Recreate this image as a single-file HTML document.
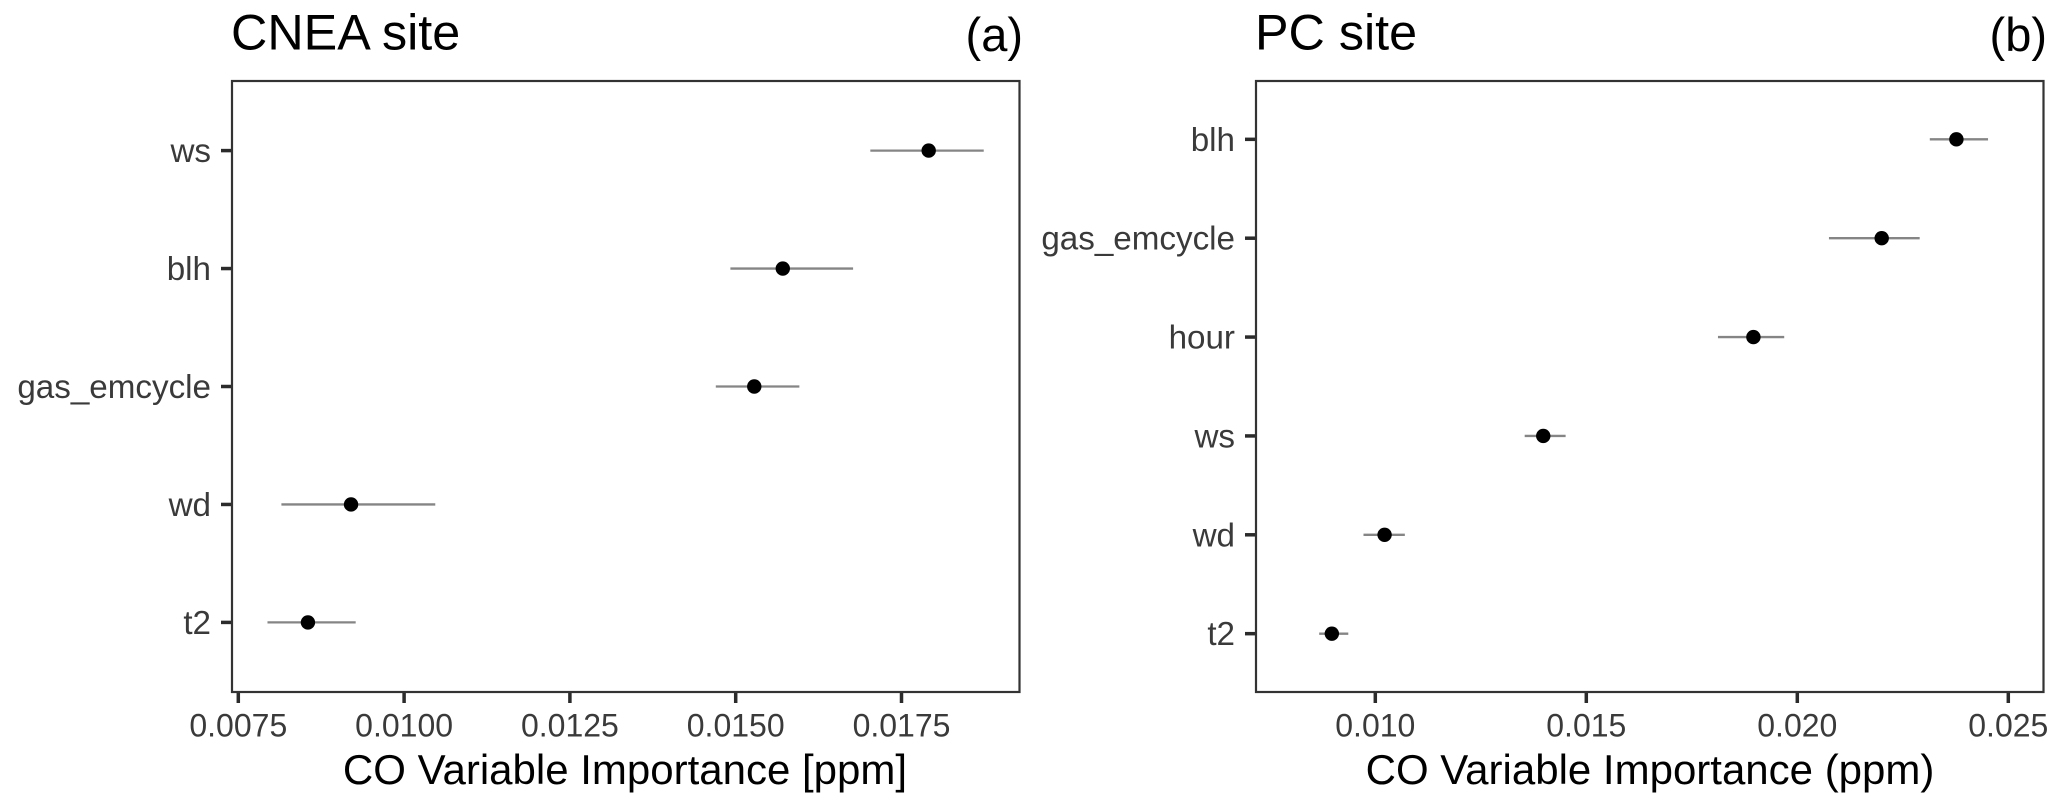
<!DOCTYPE html>
<html lang="en">
<head>
<meta charset="utf-8">
<title>CO Variable Importance</title>
<style>
html,body{margin:0;padding:0;background:#fff;}
body{width:2067px;height:805px;overflow:hidden;}
svg{display:block;font-family:"Liberation Sans",Arial,sans-serif;}
</style>
</head>
<body>
<svg id="figure" width="2067" height="805" viewBox="0 0 2067 805" xmlns="http://www.w3.org/2000/svg">
  <rect x="0" y="0" width="2067" height="805" fill="#ffffff"/>
  <text x="231" y="49.5" font-size="50.3" fill="#000">CNEA site</text>
  <text x="1023" y="51" font-size="47" text-anchor="end" fill="#000">(a)</text>
  <text x="1255" y="49.5" font-size="50.3" fill="#000">PC site</text>
  <text x="2047" y="51" font-size="47" text-anchor="end" fill="#000">(b)</text>
  <text x="625" y="784" font-size="42" text-anchor="middle" fill="#000">CO Variable Importance [ppm]</text>
  <text x="1650" y="784" font-size="42" text-anchor="middle" fill="#000">CO Variable Importance (ppm)</text>
  <g id="panel-a"></g>
  <g id="panel-b"></g>
</svg>
<script>
const categoriesA = ['ws', 'blh', 'gas_emcycle', 'wd', 't2'];
const importanceA = [0.01791, 0.01571, 0.01528, 0.0092, 0.00855];
const lowerA = [0.01703, 0.01492, 0.0147, 0.00815, 0.00794];
const upperA = [0.01874, 0.01677, 0.01596, 0.01047, 0.00927];
const tickValuesA = [0.0075, 0.01, 0.0125, 0.015, 0.0175];
const tickLabelsA = ['0.0075', '0.0100', '0.0125', '0.0150', '0.0175'];

const categoriesB = ['blh', 'gas_emcycle', 'hour', 'ws', 'wd', 't2'];
const importanceB = [0.02377, 0.022, 0.01896, 0.01398, 0.01022, 0.00897];
const lowerB = [0.02314, 0.02075, 0.01812, 0.01354, 0.00972, 0.00867];
const upperB = [0.02452, 0.0229, 0.01969, 0.01451, 0.0107, 0.00936];
const tickValuesB = [0.01, 0.015, 0.02, 0.025];
const tickLabelsB = ['0.010', '0.015', '0.020', '0.025'];

const NS = 'http://www.w3.org/2000/svg';

function mk(parent, tag, attrs) {
  const el = document.createElementNS(NS, tag);
  for (const k in attrs) el.setAttribute(k, attrs[k]);
  parent.appendChild(el);
  return el;
}

function drawPanel(cfg) {
  const g = document.getElementById(cfg.id);
  const xScale = v => cfg.x0 + (v - cfg.v0) * cfg.pxPerUnit;
  // Discrete axis: about 0.59 step expansion on both ends of the panel
  const step = (cfg.bottom - cfg.top) / (cfg.categories.length - 1 + 1.18);
  const yScale = i => cfg.top + step * (0.59 + i);

  cfg.tickValues.forEach((v, i) => {
    const tick = mk(g, 'line', {x1: xScale(v), x2: xScale(v), y1: cfg.bottom, y2: cfg.bottom + 11, stroke: '#2b2b2b', 'stroke-width': 3.5});
    
    
    const label = mk(g, 'text', {x: xScale(v), y: 736.5, 'font-size': 32, 'text-anchor': 'middle', fill: '#3a3a3a'});
    
    
    label.textContent = cfg.tickLabels[i];
  });

  cfg.categories.forEach((c, i) => {
    const y = yScale(i);
    const tick = mk(g, 'line', {x1: cfg.left - 11, x2: cfg.left, y1: y, y2: y, stroke: '#2b2b2b', 'stroke-width': 3.5});
    
    
    const label = mk(g, 'text', {x: cfg.left - 21, y: y + 11.5, 'font-size': 33.2, 'text-anchor': 'end', fill: '#3a3a3a'});
    
    
    label.textContent = c;

    const bar = mk(g, 'line', {x1: xScale(cfg.lower[i]), x2: xScale(cfg.upper[i]), y1: y, y2: y, stroke: '#858585', 'stroke-width': 2.3});
    
    
    const dot = mk(g, 'circle', {cx: xScale(cfg.values[i]), cy: y, r: 7.2, fill: '#000'});
    
    
  });

  const frame = mk(g, 'rect', {x: cfg.left, y: cfg.top, width: cfg.right - cfg.left, height: cfg.bottom - cfg.top, fill: 'none', stroke: '#333', 'stroke-width': 2.2});
  
  
}

drawPanel({
  id: 'panel-a', left: 232, right: 1019.5, top: 81, bottom: 692,
  x0: 238.3, v0: 0.0075, pxPerUnit: 66320,
  categories: categoriesA, values: importanceA, lower: lowerA, upper: upperA,
  tickValues: tickValuesA, tickLabels: tickLabelsA
});
drawPanel({
  id: 'panel-b', left: 1256, right: 2043.5, top: 81, bottom: 692,
  x0: 1375.3, v0: 0.01, pxPerUnit: 42200,
  categories: categoriesB, values: importanceB, lower: lowerB, upper: upperB,
  tickValues: tickValuesB, tickLabels: tickLabelsB
});
</script>
</body>
</html>
